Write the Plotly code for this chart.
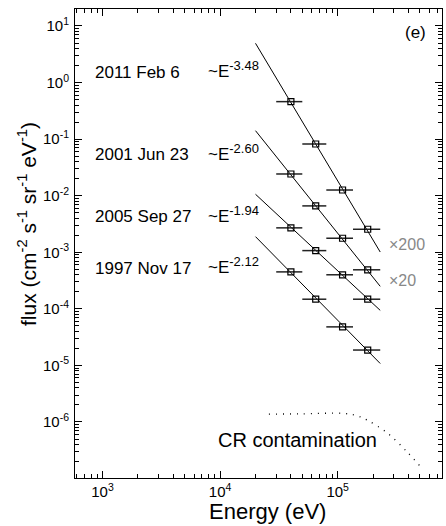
import numpy as np
import plotly.graph_objects as go

# ---------------- data ----------------
E_center = [4.0e4, 6.5e4, 1.1e5, 1.8e5]
E_lo = [3.0e4, 5.0e4, 8.0e4, 1.35e5]
E_hi = [5.0e4, 8.0e4, 1.35e5, 2.3e5]

flux_2011 = [0.46, 0.082, 0.0126, 0.00255]
flux_2001 = [0.0242, 0.0066, 0.00177, 0.00049]
flux_2005 = [0.0027, 0.00107, 0.0004, 0.000148]
flux_1997 = [0.00045, 0.000148, 4.8e-5, 1.87e-5]

fit_E = [2.0e4, 2.3e5]
fit_2011 = [4.94, 1.01e-3]
fit_2001 = [0.141, 2.5e-4]
fit_2005 = [0.0106, 9.4e-5]
fit_1997 = [0.00189, 1.08e-5]

cr_E = [2.6e4, 4.8e4, 1.1e5, 1.45e5, 1.78e5, 2.64e5, 3.9e5, 5.0e5]
cr_flux = [1.38e-6, 1.39e-6, 1.42e-6, 1.3e-6, 1.08e-6, 6.4e-7, 2.94e-7, 1.67e-7]

event_labels = ["2011 Feb 6", "2001 Jun 23", "2005 Sep 27", "1997 Nov 17"]
index_labels = ["-3.48", "-2.60", "-1.94", "-2.12"]

xtick_vals = [1e3, 1e4, 1e5]
xtick_text = ["10<sup>3</sup>", "10<sup>4</sup>", "10<sup>5</sup>"]
ytick_exps = [1, 0, -1, -2, -3, -4, -5, -6]

# --------------------------------------
FONT = "Liberation Sans, Arial, Helvetica, sans-serif"
fig = go.Figure()

err_plus = [h - c for h, c in zip(E_hi, E_center)]
err_minus = [c - l for l, c in zip(E_lo, E_center)]

for fit in [fit_2011, fit_2001, fit_2005, fit_1997]:
    fig.add_trace(go.Scatter(x=fit_E, y=fit, mode="lines",
                             line=dict(color="black", width=1), showlegend=False,
                             hoverinfo="skip"))

for fl in [flux_2011, flux_2001, flux_2005, flux_1997]:
    fig.add_trace(go.Scatter(
        x=E_center, y=fl, mode="markers",
        marker=dict(symbol="square-open", size=6, color="black", line=dict(width=1.2)),
        error_x=dict(type="data", array=err_plus, arrayminus=err_minus,
                     color="#222", thickness=1.5, width=0),
        showlegend=False))

fig.add_trace(go.Scatter(x=cr_E, y=cr_flux, mode="lines", line_shape="spline",
                         line=dict(color="black", width=1.3, dash="1px,6px"),
                         showlegend=False))

def minor_vals(lo_exp, hi_exp):
    v = []
    for e in range(lo_exp, hi_exp + 1):
        for m in range(2, 10):
            v.append(m * 10.0 ** e)
    return v

axis_common = dict(
    type="log", showgrid=False, zeroline=False, showline=True, linecolor="black",
    linewidth=1, ticks="inside", ticklen=7, tickwidth=1.2, tickcolor="black",
    mirror="ticks", tickfont=dict(family=FONT, size=15, color="black"),
)

fig.update_xaxes(**axis_common, range=[2.766, 5.887],
                 tickvals=xtick_vals, ticktext=xtick_text,
                 minor=dict(tickvals=minor_vals(2, 5), ticks="inside", ticklen=4,
                            tickcolor="black", tickwidth=1, showgrid=False))
fig.update_yaxes(**axis_common, range=[-6.99, 1.30],
                 tickvals=[10.0 ** e for e in ytick_exps],
                 ticktext=["10<sup>%d</sup>" % e for e in ytick_exps],
                 ticklabelstandoff=2,
                 minor=dict(tickvals=minor_vals(-7, 1), ticks="inside", ticklen=4,
                            tickcolor="black", tickwidth=1, showgrid=False))

L, R, T, B = 75, 4, 9, 48
W, H = 446, 526
pw, ph = W - L - R, H - T - B

def px(x):
    return (x - L) / pw

def py(y):
    return (H - B - y) / ph

ann = []
label_y = [72, 155, 217, 268]
for lab, idx, yy in zip(event_labels, index_labels, label_y):
    ann.append(dict(text=lab, x=px(93), y=py(yy), xref="paper", yref="paper",
                    xanchor="left", yanchor="middle", showarrow=False,
                    font=dict(family=FONT, size=17, color="black")))
    ann.append(dict(text="~E<sup><span style='font-size:13px'>%s</span></sup>" % idx,
                    x=px(206), y=py(yy - 3),
                    xref="paper", yref="paper",
                    xanchor="left", yanchor="middle", showarrow=False,
                    font=dict(family=FONT, size=17, color="black")))

ann.append(dict(text="(e)", x=px(415), y=py(33), xref="paper", yref="paper",
                xanchor="center", yanchor="middle", showarrow=False,
                font=dict(family=FONT, size=17, color="black")))
ann.append(dict(text="×200", x=px(387), y=py(244), xref="paper", yref="paper",
                xanchor="left", yanchor="middle", showarrow=False,
                font=dict(family=FONT, size=16, color="#888")))
ann.append(dict(text="×20", x=px(387), y=py(280), xref="paper", yref="paper",
                xanchor="left", yanchor="middle", showarrow=False,
                font=dict(family=FONT, size=16, color="#888")))
ann.append(dict(text="CR contamination", x=px(297), y=py(440), xref="paper", yref="paper",
                xanchor="center", yanchor="middle", showarrow=False,
                font=dict(family=FONT, size=20, color="black")))
ann.append(dict(text="flux (cm<sup>-2</sup> s<sup>-1</sup> sr<sup>-1</sup> eV<sup>-1</sup>)",
                x=px(27), y=py(224), xref="paper", yref="paper", textangle=-90,
                xanchor="center", yanchor="middle", showarrow=False,
                font=dict(family=FONT, size=21, color="black")))
ann.append(dict(text="Energy (eV)", x=px(267), y=py(511), xref="paper", yref="paper",
                xanchor="center", yanchor="middle", showarrow=False,
                font=dict(family=FONT, size=22, color="black")))

fig.update_layout(width=W, height=H, margin=dict(l=L, r=R, t=T, b=B),
                  plot_bgcolor="white", paper_bgcolor="white",
                  annotations=ann, showlegend=False)

fig.write_html("out.html")
